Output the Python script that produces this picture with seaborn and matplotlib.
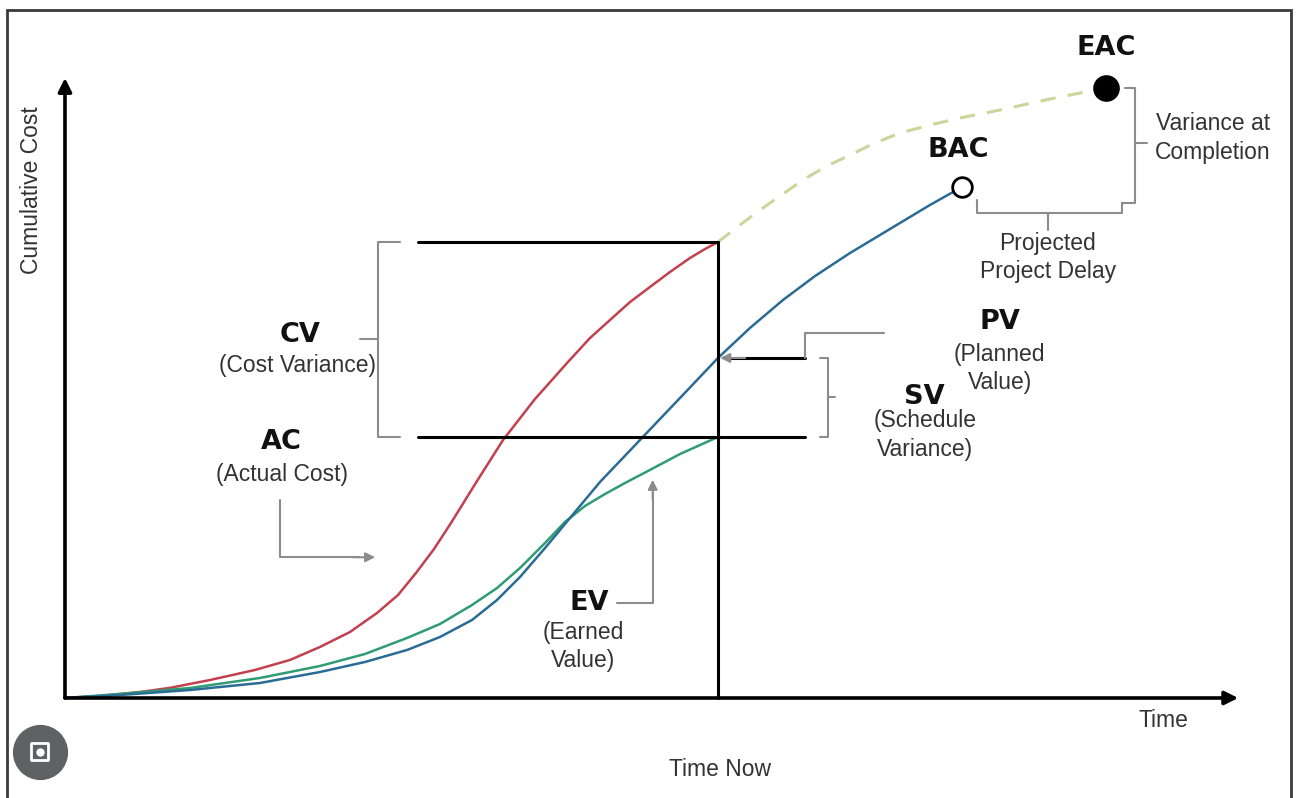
import numpy as np
import pandas as pd
import seaborn as sns
import matplotlib.pyplot as plt
from matplotlib.patches import Rectangle

# curves (time units, cost units)
ac_time = [0, 3.22, 6.89, 9.56, 13.32, 17.46, 20.67, 23.43, 26.19, 28.67, 30.60, 32.25, 33.91,
           35.47, 37.86, 40.25, 43.19, 46.13, 48.24, 50.08, 51.92, 53.75, 55.59, 57.43, 58.81, 60.0]
ac_cost = [0, 0.32, 0.97, 1.61, 2.90, 4.52, 6.13, 8.23, 10.65, 13.71, 16.61, 20.16, 24.03,
           28.23, 35.0, 41.61, 48.23, 54.03, 58.06, 60.97, 63.87, 66.29, 68.71, 70.97, 72.42, 73.55]

pv_time = [0, 5.05, 11.49, 17.92, 23.43, 27.57, 31.43, 34.46, 37.40, 39.70, 41.81, 44.11,
           46.40, 49.16, 52.83, 56.51, 60.0, 62.94, 65.97, 68.92, 72.13, 76.72, 79.48, 82.42]
pv_cost = [0, 0.48, 1.29, 2.42, 4.19, 5.81, 7.74, 9.84, 12.58, 15.81, 19.52, 24.19,
           29.03, 34.84, 41.61, 48.39, 54.84, 59.68, 64.19, 68.06, 71.77, 76.61, 79.52, 82.42]

ev_time = [0, 5.05, 11.49, 17.92, 23.43, 27.57, 31.43, 34.46, 37.40, 39.70, 41.81, 44.11,
           45.94, 47.78, 49.62, 51.46, 53.39, 56.51, 60.0]
ev_cost = [0, 0.65, 1.61, 3.23, 5.16, 7.10, 9.68, 11.94, 15.0, 17.74, 20.97, 25.0,
           28.39, 30.97, 32.90, 34.68, 36.45, 39.35, 42.10]

eac_time = [60, 62.02, 63.86, 65.70, 67.81, 69.83, 72.13, 74.43, 76.72, 79.48, 82.24, 85.91, 90.51, 93.26, 95.65]
eac_cost = [73.55, 76.29, 78.71, 80.97, 83.55, 85.65, 87.58, 89.52, 91.13, 92.42, 93.55, 94.84, 96.61, 97.58, 98.39]

time_now = 60
bac_point = (pv_time[-1], pv_cost[-1])
eac_point = (eac_time[-1], eac_cost[-1])
ac_now, pv_now, ev_now = ac_cost[-1], pv_cost[16], ev_cost[-1]

sns.set_style("white")
plt.rcParams['font.family'] = ['Liberation Sans', 'DejaVu Sans']

fig = plt.figure(figsize=(12.96, 7.98), dpi=100)
ax = fig.add_axes([0, 0, 1, 1])
ax.set_xlim(-5.97, 113.11)
ax.set_ylim(-16.13, 112.58)
ax.axis('off')

red, blue, green = '#c3404e', '#2a6c95', '#2f9c74'
grey = '#8c8c8c'

sns.lineplot(x=ac_time, y=ac_cost, ax=ax, color=red, lw=1.8, estimator=None)
sns.lineplot(x=ev_time, y=ev_cost, ax=ax, color=green, lw=1.8, estimator=None)
sns.lineplot(x=pv_time, y=pv_cost, ax=ax, color=blue, lw=1.8, estimator=None)
ax.plot(eac_time, eac_cost, color='#c8d79c', lw=2.2, ls=(0, (5, 4)))

# axes arrows
arrow_kw = dict(arrowstyle='-|>', lw=2.6, color='black', mutation_scale=20, shrinkA=0, shrinkB=0)
ax.annotate('', xy=(0, 100), xytext=(0, 0), arrowprops=arrow_kw)
ax.annotate('', xy=(107.8, 0), xytext=(0, 0), arrowprops=arrow_kw)

# time now + reference lines
ax.plot([time_now, time_now], [0, ac_now], color='black', lw=2.2)
ax.plot([32.4, time_now], [ac_now, ac_now], color='black', lw=2.2)
ax.plot([32.4, 68.0], [ev_now, ev_now], color='black', lw=2.2)
ax.plot([68.0, 61.0], [pv_now, pv_now], color='black', lw=2.2)
ax.annotate('', xy=(time_now + 0.2, pv_now), xytext=(62.5, pv_now),
            arrowprops=dict(arrowstyle='-|>', color=grey, lw=1.5, mutation_scale=14, shrinkA=0, shrinkB=0))
ax.plot([68.0, 68.0, 75.3], [pv_now, 58.87, 58.87], color=grey, lw=1.5)

# CV bracket
ax.plot([30.8, 28.76, 28.76, 30.8], [ac_now, ac_now, ev_now, ev_now], color=grey, lw=1.5)
ax.plot([27.1, 28.76], [(ac_now + ev_now) / 2] * 2, color=grey, lw=1.5)
# SV bracket
ax.plot([69.4, 70.1, 70.1, 69.4], [pv_now, pv_now, ev_now, ev_now], color=grey, lw=1.5)
ax.plot([70.1, 70.75], [(pv_now + ev_now) / 2] * 2, color=grey, lw=1.5)

# AC / EV pointer arrows
ax.plot([19.76, 19.76, 27.0], [31.9, 22.7, 22.7], color=grey, lw=1.5)
ax.annotate('', xy=(28.5, 22.7), xytext=(26.5, 22.7),
            arrowprops=dict(arrowstyle='-|>', color=grey, lw=1.5, mutation_scale=14, shrinkA=0, shrinkB=0))
ax.plot([50.7, 54.0, 54.0], [15.3, 15.3, 33.0], color=grey, lw=1.5)
ax.annotate('', xy=(54.0, 35.2), xytext=(54.0, 32.0),
            arrowprops=dict(arrowstyle='-|>', color=grey, lw=1.5, mutation_scale=14, shrinkA=0, shrinkB=0))

# BAC / EAC brackets
ax.plot([83.8, 83.8, 97.1, 97.1], [80.3, 78.2, 78.2, 79.8], color=grey, lw=1.5)
ax.plot([90.3, 90.3], [78.2, 75.5], color=grey, lw=1.5)
ax.plot([97.4, 98.3, 98.3, 97.1], [eac_point[1], eac_point[1], 79.8, 79.8], color=grey, lw=1.5)
ax.plot([98.3, 99.4], [89.5, 89.5], color=grey, lw=1.5)

# BAC / EAC markers
ax.scatter([bac_point[0]], [bac_point[1]], s=200, facecolor='white', edgecolor='black', lw=2, zorder=5)
ax.scatter([eac_point[0]], [eac_point[1]], s=330, facecolor='black', edgecolor='black', zorder=5)

bold = dict(fontsize=19.5, fontweight='bold', family='DejaVu Sans', ha='center', va='center', color='#111111')
reg = dict(fontsize=16.5, ha='center', va='center', color='#333333', linespacing=1.3)

ax.text(-3.03, 81.9, 'Cumulative Cost', rotation=90, **reg)
ax.text(95.65, 104.8, 'EAC', **bold)
ax.text(82.05, 88.4, 'BAC', **bold)
ax.text(105.5, 90.3, 'Variance at\nCompletion', **reg)
ax.text(90.3, 71.0, 'Projected\nProject Delay', **reg)
ax.text(21.6, 58.5, 'CV', **bold)
ax.text(21.4, 53.7, '(Cost Variance)', **reg)
ax.text(19.9, 41.3, 'AC', **bold)
ax.text(19.9, 36.0, '(Actual Cost)', **reg)
ax.text(85.9, 60.6, 'PV', **bold)
ax.text(85.9, 53.1, '(Planned\nValue)', **reg)
ax.text(79.0, 48.5, 'SV', **bold)
ax.text(79.0, 42.4, '(Schedule\nVariance)', **reg)
ax.text(48.2, 15.3, 'EV', **bold)
ax.text(47.6, 8.35, '(Earned\nValue)', **reg)
ax.text(100.9, -3.55, 'Time', **reg)
ax.text(60.2, -11.6, 'Time Now', **reg)

# lens badge in the corner
ax.scatter([-2.3], [-8.7], s=1500, color='#5f6163', zorder=5)
ax.scatter([-2.3], [-8.7], s=150, marker='s', facecolor='none', edgecolor='white', lw=2, zorder=6)
ax.scatter([-2.3], [-8.7], s=25, color='white', zorder=7)

fig.patches.append(Rectangle((7 / 1296, -0.01), 1284 / 1296, (798 - 10) / 798 + 0.01,
                             transform=fig.transFigure, fill=False, edgecolor='#3a3a3a', lw=2))

fig.savefig('out.png', dpi=100)
